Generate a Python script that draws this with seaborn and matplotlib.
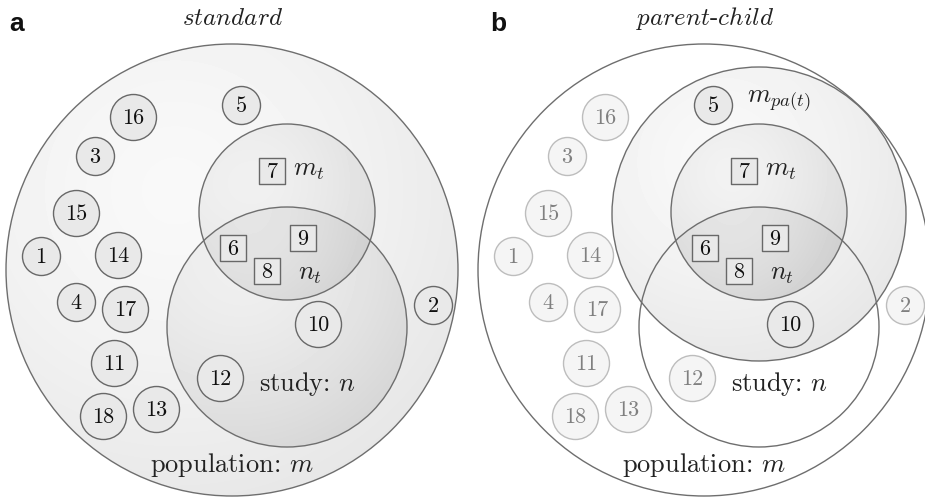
import numpy as np
import pandas as pd
import matplotlib
matplotlib.use("Agg")
import matplotlib.pyplot as plt
import seaborn as sns
from matplotlib.patches import Circle

# elements 1..18, layout positions (panel b is the same layout shifted)
element_ids = list(range(1, 19))
elem_x = [41, 433, 95, 76, 241, 233, 272, 267, 303, 318, 114, 220, 156, 118, 76, 133, 125, 103]
elem_y = [256, 305, 156, 302, 105, 248, 171, 271, 238, 324, 363, 378, 409, 255, 213, 117, 309, 416]
target_ids = [6, 7, 8, 9]          # drawn as squares
parent_ids = [5, 10]               # inside m_pa(t) in panel b

# sets: centre x, centre y, radius
population = (232, 270, 226)
set_mt = (287, 212, 88)
set_study = (287, 327, 120)
set_parent = (287, 214, 147)

panel_letters = ["a", "b"]
panel_titles = [r"$\mathit{standard}$", r"$\mathit{parent}\text{-}\mathit{child}$"]
panel_shift = [0, 472]

W, H = 925, 498

sns.set_theme(style="white")
plt.rcParams["mathtext.fontset"] = "cm"
plt.rcParams["font.family"] = ["cmr10", "DejaVu Serif"]
plt.rcParams["axes.unicode_minus"] = False

fig = plt.figure(figsize=(W / 100, H / 100), dpi=100)
ax = fig.add_axes([0, 0, 1, 1])

# shaded background of the sets
X, Y = np.meshgrid(np.arange(W) + 0.5, np.arange(H) + 0.5)
V = np.ones((H, W))


def inside(c, dx):
    cx, cy, r = c
    return (X - cx - dx) ** 2 + (Y - cy) ** 2 <= r ** 2


def shade(c, dx, hi, lo):
    cx, cy, r = c
    hx, hy = cx + dx - 0.25 * r, cy - 0.35 * r
    t = np.clip(np.hypot(X - hx, Y - hy) / (1.43 * r), 0, 1)
    return hi - (hi - lo) * t ** 1.5


dx = panel_shift[0]
V *= np.where(inside(population, dx), shade(population, dx, 0.975, 0.905), 1)
V *= np.where(inside(set_mt, dx), shade(set_mt, dx, 0.975, 0.92), 1)
V *= np.where(inside(set_study, dx), shade(set_study, dx, 0.975, 0.92), 1)

dx = panel_shift[1]
V *= np.where(inside(set_parent, dx), shade(set_parent, dx, 0.975, 0.905), 1)
V *= np.where(inside(set_mt, dx), shade(set_mt, dx, 0.975, 0.92), 1)
V *= np.where(inside(set_mt, dx) & inside(set_study, dx), shade(set_study, dx, 0.975, 0.92), 1)

ax.imshow(V, cmap="gray", vmin=0, vmax=1, extent=(0, W, H, 0),
          interpolation="bilinear", zorder=0)

outline = "#6e6e6e"
for p, dx in enumerate(panel_shift):
    sets = [population, set_mt, set_study] + ([set_parent] if p == 1 else [])
    for cx, cy, r in sets:
        ax.add_patch(Circle((cx + dx, cy), r, fill=False, ec=outline, lw=1.0, zorder=2))

# elements
rows = []
for p, dx in enumerate(panel_shift):
    for i, x, y in zip(element_ids, elem_x, elem_y):
        faded = p == 1 and i not in target_ids and i not in parent_ids
        rows.append(dict(id=i, x=x + dx, y=y, panel=p,
                         kind="square" if i in target_ids else ("big" if i >= 10 else "small"),
                         faded=faded))
df = pd.DataFrame(rows)

marker_style = {"square": ("s", 342), "big": ("o", 1097), "small": ("o", 749)}
for (kind, faded), sub in df.groupby(["kind", "faded"]):
    marker, s = marker_style[kind]
    face = "#f5f5f5" if faded else "#e9e9e9"
    edge = "#bdbdbd" if faded else "#686868"
    sns.scatterplot(data=sub, x="x", y="y", marker=marker, s=s, color=face,
                    edgecolor=edge, linewidth=1.0, ax=ax, legend=False, zorder=3)
    for _, r in sub.iterrows():
        ax.text(r.x, r.y + 1, str(r.id), ha="center", va="center", fontsize=16,
                color="#808080" if faded else "#111111", zorder=4)

# labels
for p, dx in enumerate(panel_shift):
    ax.text(17 + dx + (9 if p else 0), 31, panel_letters[p], fontsize=19, fontweight="bold",
            family=["Liberation Sans", "DejaVu Sans"], ha="center", va="baseline", color="#111")
    ax.text(233 + dx, 25, panel_titles[p], fontsize=18, ha="center", va="baseline", color="#222")
    ax.text(293 + dx, 176, r"$m_t$", fontsize=19, ha="left", va="baseline", color="#222")
    ax.text(298 + dx, 280, r"$n_t$", fontsize=19, ha="left", va="baseline", color="#222")
    ax.text(259 + dx, 391, r"study: $n$", fontsize=19, ha="left", va="baseline", color="#222")
    ax.text(232 + dx, 472, r"population: $m$", fontsize=19, ha="center", va="baseline", color="#222")
ax.text(747, 103, r"$m_{pa(t)}$", fontsize=19, ha="left", va="baseline", color="#222")

ax.set_xlim(0, W)
ax.set_ylim(H, 0)
ax.set_aspect("auto")
ax.axis("off")

fig.savefig("out.png", dpi=100)
